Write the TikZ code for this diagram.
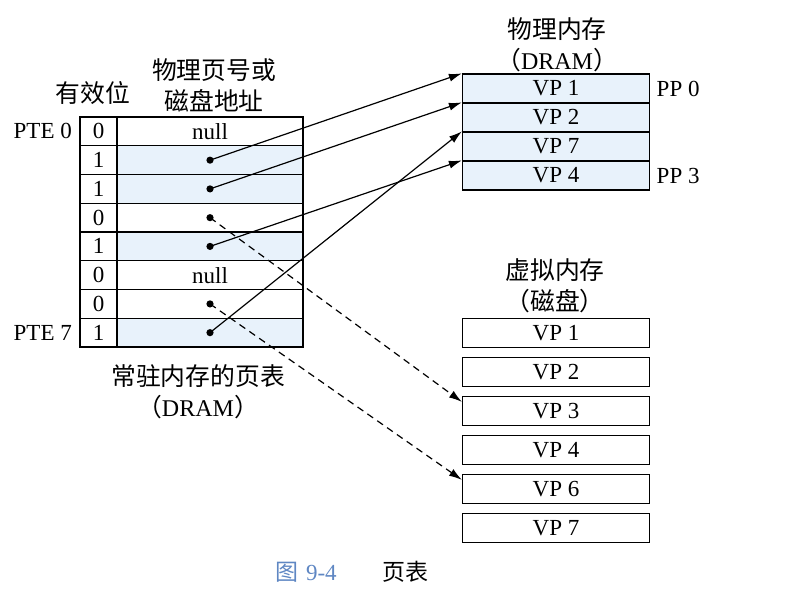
\documentclass[tikz,border=0pt]{standalone}
\usepackage{fontspec}
\setmainfont{Liberation Serif}
\newfontfamily\cjk{Noto Sans CJK SC}
\usetikzlibrary{arrows.meta,positioning,calc}
\definecolor{cellblue}{RGB}{232,242,251}
\definecolor{capblue}{RGB}{95,135,195}
\newcommand\dramtxt{（{\rmfamily\fontsize{12}{15}\selectfont DRAM}）}

\begin{document}
\begin{tikzpicture}[x=0.5pt, y=-0.5pt, >={Latex[length=6.5pt,width=4pt]}, font=\fontsize{11.5}{13}\selectfont, line width=0.6pt,
  vbit/.style={draw, minimum width=18.5pt, minimum height=14.4pt, inner sep=0pt},
  addr/.style={draw, minimum width=93pt, minimum height=14.4pt, inner sep=0pt},
  ppage/.style={draw, fill=cellblue, minimum width=93.5pt, minimum height=14.5pt, inner sep=0pt},
  vpage/.style={draw, minimum width=93.5pt, minimum height=14.5pt, inner sep=0pt},
  dot/.style={circle, fill, inner sep=0pt, minimum size=3.6pt},
  lbl/.style={font=\cjk\fontsize{12.4}{15.5}\selectfont, align=center, inner sep=0pt}]
\useasboundingbox (0,0) rectangle (785,593);

% page table
\foreach \b/\f/\t [count=\i from 0] in {0/white/null,1/cellblue/{},1/cellblue/{},0/white/{},1/cellblue/{},0/white/null,0/white/{},1/cellblue/{}} {
  \node[addr, fill=\f] (a\i) at (210,{131.4+28.75*\i}) {\t};
  \node[vbit] (v\i) at (98.5,{131.4+28.75*\i}) {\b};
}
\foreach \i in {1,2,3,4,6,7} \node[dot] (d\i) at (a\i) {};
\node[left=3.5pt of v0, inner sep=0pt] (pte0) {PTE 0};
\node[left=3.5pt of v7, inner sep=0pt] (pte7) {PTE 7};
\node[lbl] (valid) at (93,93) {有效位};
\node[lbl] (ppn) at (214,85.5) {物理页号或\\磁盘地址};
\node[lbl] (ptname) at (198,391.5) {常驻内存的页表\\\dramtxt};

% physical memory
\foreach \t [count=\i from 0] in {1,2,7,4} \node[ppage] (m\t) at (556,{88.5+29*\i}) {VP \t};
\node[lbl] (dram) at (557,45) {物理内存\\\dramtxt};
\node[right=3pt of m1, inner sep=0pt] (pp0) {PP 0};
\node[right=3pt of m4, inner sep=0pt] (pp3) {PP 3};

% virtual memory on disk
\foreach \t [count=\i from 0] in {1,2,3,4,6,7} \node[vpage] (s\t) at (556,{333+39*\i}) {VP \t};
\node[lbl] (disk) at (555,285.5) {虚拟内存\\（磁盘）};

\draw[->] (d1.center) -- (m1.north west);
\draw[->] (d2.center) -- (m2.north west);
\draw[->] (d4.center) -- (m4.north west);
\draw[->] (d7.center) -- (m7.north west);
\draw[->, dash pattern=on 3.5pt off 2.5pt] (d3.center) -- ([yshift=-3pt]s3.north west);
\draw[->, dash pattern=on 3.5pt off 2.5pt] (d6.center) -- ([yshift=-3pt]s6.north west);

\node (cap) at (352,572) {{\color{capblue}{\cjk 图}\,\,9-4}\qquad{\cjk 页表}};
\end{tikzpicture}
\end{document}
